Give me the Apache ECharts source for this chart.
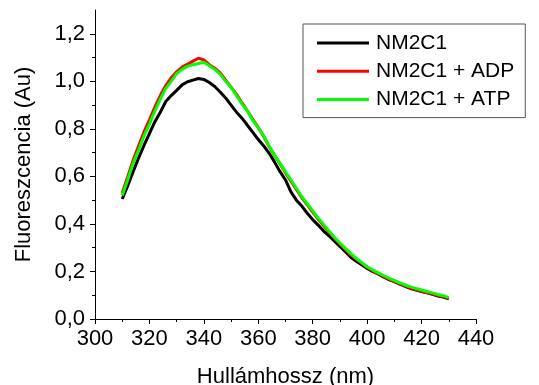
<!DOCTYPE html>
<html>
<head>
<meta charset="utf-8">
<script src="https://cdn.jsdelivr.net/npm/echarts@6/dist/echarts.min.js"></script>
<style>
html,body{margin:0;padding:0;background:#fff;}
#chart{width:539px;height:385px;}
</style>
</head>
<body>
<div id="chart"></div>
<script>
const wavelength = [310,312,314,316,318,320,322,324,326,328,330,332,334,336,338,340,342,344,346,348,350,352,354,356,358,360,362,364,366,368,370,372,374,376,378,380,382,384,386,388,390,392,394,396,398,400,402,404,406,408,410,412,414,416,418,420,422,424,426,428,430];
const nm2c1 = [0.505,0.56,0.62,0.677,0.73,0.78,0.83,0.87,0.915,0.94,0.962,0.985,0.998,1.005,1.012,1.008,0.995,0.978,0.955,0.93,0.9,0.87,0.845,0.815,0.785,0.755,0.728,0.697,0.66,0.62,0.585,0.535,0.5,0.475,0.445,0.418,0.395,0.37,0.35,0.327,0.305,0.283,0.26,0.243,0.228,0.213,0.2,0.19,0.177,0.166,0.157,0.147,0.137,0.128,0.122,0.116,0.11,0.104,0.097,0.092,0.085];
const nm2c1Adp = [0.53,0.598,0.668,0.728,0.787,0.838,0.892,0.94,0.982,1.015,1.04,1.06,1.072,1.085,1.097,1.09,1.07,1.055,1.035,1.005,0.975,0.945,0.91,0.876,0.84,0.805,0.768,0.725,0.688,0.652,0.615,0.58,0.545,0.51,0.48,0.45,0.42,0.393,0.365,0.34,0.316,0.293,0.27,0.251,0.234,0.217,0.203,0.191,0.179,0.168,0.158,0.148,0.139,0.13,0.124,0.117,0.111,0.105,0.099,0.094,0.087];
const nm2c1Atp = [0.52,0.585,0.655,0.71,0.77,0.82,0.875,0.925,0.97,1.0,1.032,1.05,1.063,1.07,1.075,1.08,1.065,1.05,1.03,1.0,0.975,0.94,0.905,0.875,0.835,0.805,0.77,0.728,0.69,0.655,0.62,0.585,0.55,0.515,0.485,0.455,0.425,0.398,0.37,0.343,0.32,0.297,0.275,0.255,0.238,0.22,0.207,0.195,0.183,0.172,0.162,0.152,0.143,0.135,0.128,0.122,0.116,0.11,0.103,0.098,0.09];
const seriesNames = ['NM2C1','NM2C1 + ADP','NM2C1 + ATP'];
const yMajorTicks = [0,0.2,0.4,0.6,0.8,1.0,1.2];
const yMinorTicks = [0.1,0.3,0.5,0.7,0.9,1.1];

const FONT = 'Liberation Sans, Arial, sans-serif';
const pairs = arr => wavelength.map((w,i)=>[w,arr[i]]);
const chart = echarts.init(document.getElementById('chart'), null, {renderer:'canvas'});
const lineSeries = (name, data, color) => ({
  name, type:'line', data: pairs(data), showSymbol:false, symbol:'none',
  lineStyle:{color, width:3}, itemStyle:{color}, animation:false
});
chart.setOption({
  animation:false,
  backgroundColor:'#fff',
  grid:{left:95, right:63, top:10, bottom:66, containLabel:false, outerBoundsMode:'none'},
  legend:{
    orient:'vertical', left:303, top:24,
    padding:[8,11,7,14],
    itemWidth:52, itemHeight:3, itemGap:6.3, icon:'rect',
    borderColor:'#555', borderWidth:1, backgroundColor:'#fff',
    textStyle:{fontFamily:FONT, fontSize:21, color:'#000', lineHeight:22, padding:[0,0,0,2]},
    data: seriesNames
  },
  xAxis:{
    type:'value', min:300, max:440, interval:20,
    name:'Hullámhossz (nm)', nameLocation:'middle', nameGap:47,
    nameTextStyle:{fontFamily:FONT, fontSize:22, color:'#000'},
    axisLine:{show:true, onZero:false, lineStyle:{color:'#000', width:1}},
    axisTick:{show:true, inside:false, length:5, lineStyle:{color:'#000'}},
    minorTick:{show:true, splitNumber:2, length:3, lineStyle:{color:'#000'}},
    axisLabel:{fontFamily:FONT, fontSize:22, color:'#000', margin:9},
    splitLine:{show:false}
  },
  yAxis:[{
    type:'value', min:0, max:1.3, interval:0.1,
    name:'Fluoreszcencia (Au)', nameLocation:'middle', nameGap:60,
    nameTextStyle:{fontFamily:FONT, fontSize:22, color:'#000'},
    axisLine:{show:true, onZero:false, lineStyle:{color:'#000', width:1}},
    axisTick:{show:true, inside:false, length:5, customValues:yMajorTicks, lineStyle:{color:'#000'}},
    axisLabel:{fontFamily:FONT, fontSize:22, color:'#000', margin:10, customValues:yMajorTicks,
      formatter: v => v.toFixed(1).replace('.',',')},
    splitLine:{show:false}
  },{
    type:'value', min:0, max:1.3, interval:0.1, position:'left',
    axisLine:{show:false},
    axisTick:{show:true, inside:false, length:3, customValues:yMinorTicks, lineStyle:{color:'#000'}},
    axisLabel:{show:false},
    splitLine:{show:false}
  }],
  series:[
    lineSeries(seriesNames[0], nm2c1, '#000000'),
    lineSeries(seriesNames[1], nm2c1Adp, '#ff0000'),
    lineSeries(seriesNames[2], nm2c1Atp, '#00ff00')
  ]
});
</script>
</body>
</html>
